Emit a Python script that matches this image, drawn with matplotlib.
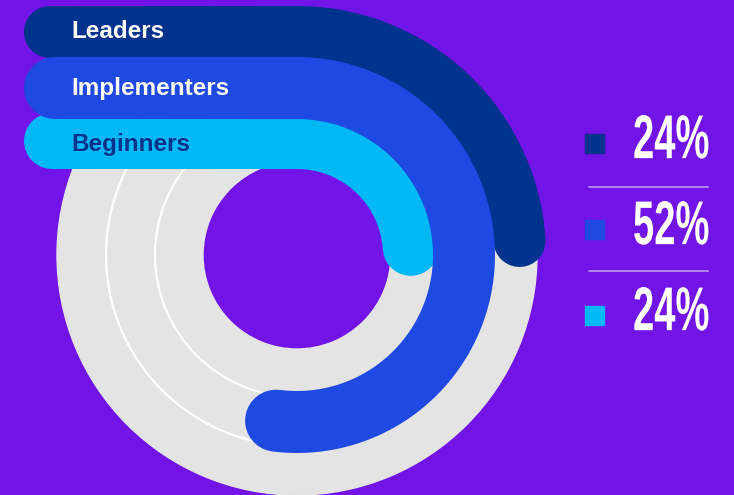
import numpy as np
import matplotlib.pyplot as plt
from matplotlib.patches import Wedge, Circle, Rectangle
from matplotlib.patheffects import AbstractPathEffect
from matplotlib.transforms import Affine2D

# ============================================
# Data
# ============================================
groups = ["Leaders", "Implementers", "Beginners"]
shares = [24, 52, 24]
pct_labels = ["24%", "52%", "24%"]
colors = ["#00338D", "#1E49E2", "#00B8F5"]
text_colors = ["white", "white", "#00338D"]


# stretch glyphs vertically to mimic a tall condensed face
class Stretch(AbstractPathEffect):
    def __init__(self, sy):
        super().__init__()
        self.sy = sy

    def draw_path(self, renderer, gc, tpath, affine, rgbFace=None):
        ext = tpath.get_extents()
        _, y0 = affine.transform((0, (ext.y0 + ext.y1) / 2))
        stretch = Affine2D().translate(0, -y0).scale(1, self.sy).translate(0, y0)
        renderer.draw_path(gc, tpath, affine + stretch, rgbFace)


# ============================================
# Layout (pixel coordinates)
# ============================================
W, H, DPI = 734, 495, 100
bg = "#7213E8"
grey = "#E4E4E4"
cx, cy = 297, 255
radii = [223, 167, 114]
widths = [52, 62, 56]
bar_left = 24

fig = plt.figure(figsize=(W / DPI, H / DPI), dpi=DPI, facecolor=bg)
ax = fig.add_axes([0, 0, 1, 1])
ax.set_xlim(0, W)
ax.set_ylim(H, 0)
ax.set_aspect("equal")
ax.axis("off")
ax.set_facecolor(bg)

px = 72 / DPI  # pixel -> points

# grey background ring and thin white guides
ax.add_patch(Wedge((cx, cy), 240, 0, 360, width=240 - 94, color=grey, zorder=1))
for r in [191, 142]:
    ax.add_patch(Circle((cx, cy), r, fill=False, ec="white", lw=2.2 * px, zorder=2))

# arcs + horizontal bars (y axis is inverted, so angle goes clockwise on screen)
order = [2, 0, 1]
for i in order:
    r, w = radii[i], widths[i]
    span = shares[i] / 100 * 2 * np.pi
    t = np.linspace(0, span, 200)
    xs = cx + r * np.sin(t)
    ys = cy - r * np.cos(t)
    xs = np.concatenate([[bar_left + w / 2], xs])
    ys = np.concatenate([[cy - r], ys])
    ax.plot(xs, ys, color=colors[i], lw=w * px, solid_capstyle="round",
            solid_joinstyle="round", zorder=3 + order.index(i))

text_dy = [0, 1, 3]
for i, g in enumerate(groups):
    ax.text(71, cy - radii[i] + text_dy[i], g, color=text_colors[i], fontsize=17.5,
            fontweight="bold", family="Liberation Sans", va="center", ha="left",
            zorder=10)

# legend on the right
leg_y = [143, 229, 315]
for i in range(3):
    ax.add_patch(Rectangle((585, leg_y[i] - 9.5), 19, 19, color=colors[i], zorder=5))
    ax.text(633, leg_y[i] - 3, pct_labels[i], color="white", fontsize=27.5,
            fontweight="bold", family="Liberation Sans",
            va="center", ha="left", zorder=5, path_effects=[Stretch(1.62)])
for y in [187, 271]:
    ax.plot([589, 708], [y, y], color="#C9A8F5", lw=1.5 * px, zorder=5)

fig.savefig("out.png", dpi=DPI, facecolor=bg)
